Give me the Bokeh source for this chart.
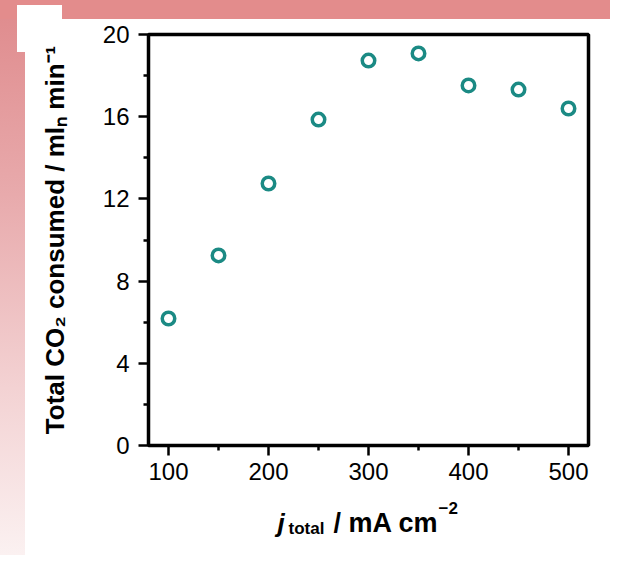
from bokeh.plotting import figure
from bokeh.models import Label, FixedTicker, Range1d
from bokeh.embed import file_html
from bokeh.resources import INLINE

# data
current_density = [100, 150, 200, 250, 300, 350, 400, 450, 500]
co2_consumed = [6.18, 9.25, 12.75, 15.86, 18.73, 19.08, 17.52, 17.32, 16.40]
x_ticks = [100, 200, 300, 400, 500]
x_minor = [150, 250, 350, 450]
y_ticks = [0, 4, 8, 12, 16, 20]
y_minor = [2, 6, 10, 14, 18]

W, H = 610, 555
FL, FR, FT, FB = 148, 588, 34, 445  # frame edges in figure pixels
X0, X1, Y0, Y1 = 80, 520, 0, 20

p = figure(width=W, height=H, output_backend="svg", toolbar_location=None,
           x_range=Range1d(X0, X1), y_range=Range1d(Y0, Y1),
           min_border_left=FL, min_border_right=W - FR,
           min_border_top=FT, min_border_bottom=H - FB)
p.background_fill_color = "white"
p.border_fill_alpha = 0
p.outline_line_color = "black"
p.outline_line_width = 3.5
p.grid.visible = False
p.stylesheets = [
    ":host { background:"
    " linear-gradient(#ffffff, #ffffff) 17px 5px / 45px 47px no-repeat,"
    " linear-gradient(#e38c8c, #e38c8c) 0 0 / 100% 19px no-repeat,"
    " linear-gradient(to bottom, #df8a8c 0%, #e8aaac 35%, #f3d2d3 70%, #fbf1f1 100%) 0 0 / 25px 100% no-repeat,"
    " #ffffff; }"
]

p.scatter(current_density, co2_consumed, marker="circle", size=12.5,
          fill_alpha=0, line_color="#1b8a84", line_width=3.5)

for ax in (p.xaxis[0], p.yaxis[0]):
    ax.axis_line_width = 2.5
    ax.major_tick_line_width = 2.5
    ax.minor_tick_line_width = 2.5
    ax.major_tick_out = 10
    ax.major_tick_in = 0
    ax.minor_tick_out = 5
    ax.minor_tick_in = 0
    ax.major_label_text_font = "Liberation Sans"
    ax.major_label_text_font_size = "24px"
    ax.major_label_text_color = "black"
    ax.axis_label_text_font = "Liberation Sans"
    ax.axis_label_text_font_style = "bold"
    ax.axis_label_text_font_size = "26px"
    ax.axis_label_text_color = "black"

p.xaxis.ticker = FixedTicker(ticks=x_ticks, minor_ticks=x_minor)
p.yaxis.ticker = FixedTicker(ticks=y_ticks, minor_ticks=y_minor)
p.xaxis.major_label_standoff = 7
p.yaxis.major_label_standoff = 9
p.yaxis.axis_label = "Total CO\u2082 consumed / ml\u2099 min\u207b\u00b9"
p.yaxis.axis_label_standoff = 30

# helpers: figure pixel -> data coordinates
def dx(px):
    return X0 + (px - FL) * (X1 - X0) / (FR - FL)

def dy(py):
    return Y0 + (FB - py) * (Y1 - Y0) / (FB - FT)

# x-axis label built from pieces; each piece lives in a side panel (spare border room)
def lab(text, x, y, size, style, side):
    p.add_layout(Label(x=dx(x), y=dy(y), x_units="data", y_units="data",
                       text=text, text_font="Liberation Sans", text_font_size=size,
                       text_font_style=style, text_color="black",
                       text_baseline="alphabetic", text_align="left"), side)

lab("j", 277, 522, "26px", "bold italic", "left")
lab("total", 288, 528, "17px", "bold", "below")
lab("/ mA cm", 333, 522, "27px", "bold", "below")
lab("\u22122", 438, 507, "17px", "bold", "left")

open("out.html", "w").write(file_html(p, INLINE))
